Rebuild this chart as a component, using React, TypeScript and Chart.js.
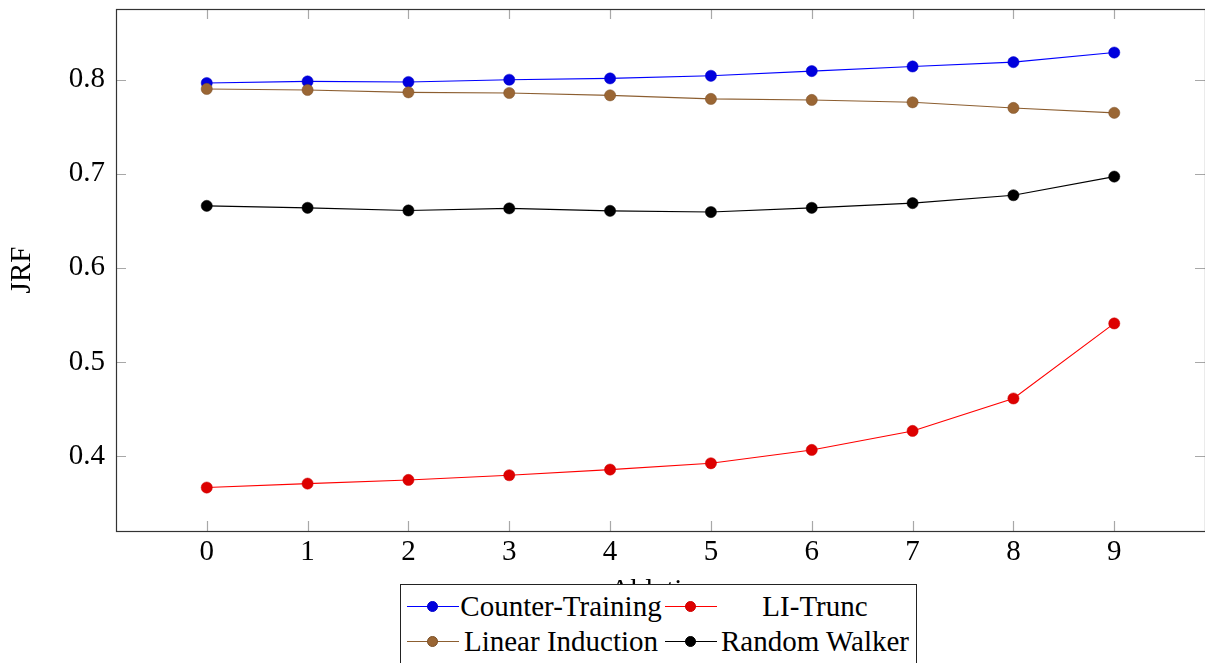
import React, { useEffect, useRef } from "react";
import { Chart, registerables } from "chart.js";

Chart.register(...registerables);

// ---- data ----
const xValues = [0, 1, 2, 3, 4, 5, 6, 7, 8, 9];
const counterTraining = [0.7965, 0.7982, 0.7976, 0.8, 0.8014, 0.8042, 0.8092, 0.8141, 0.8187, 0.8289];
const liTrunc = [0.3664, 0.3706, 0.3745, 0.3795, 0.3855, 0.3922, 0.4064, 0.4266, 0.4611, 0.5409];
const linearInduction = [0.7902, 0.7891, 0.7866, 0.7859, 0.7834, 0.7796, 0.7785, 0.776, 0.77, 0.7648];
const randomWalker = [0.6659, 0.6638, 0.661, 0.6632, 0.6606, 0.6593, 0.6638, 0.6688, 0.6772, 0.697];
const yTicks = [0.4, 0.5, 0.6, 0.7, 0.8];
const xTicks = [0, 1, 2, 3, 4, 5, 6, 7, 8, 9];
const seriesLabels = ["Counter-Training", "LI-Trunc", "Linear Induction", "Random Walker"];
const xTitle = "Ablation";
const yTitle = "JRF";

const FONT = '"Liberation Serif", "Times New Roman", serif';

const styles = [
  { line: "#0000ff", fill: "#0000dd", border: "#0000cc", order: 4 },
  { line: "#ff0000", fill: "#dd0000", border: "#cc0000", order: 3 },
  { line: "#8c5e30", fill: "#9a6634", border: "#7a4f26", order: 2 },
  { line: "#000000", fill: "#000000", border: "#000000", order: 1 },
];

const seriesValues = [counterTraining, liTrunc, linearInduction, randomWalker];

const frameTicks = {
  id: "frameTicks",
  afterDatasetsDraw(chart: any) {
    const { ctx, chartArea } = chart;
    const xs = chart.scales.x;
    const ys = chart.scales.y;
    const { left, right, top, bottom } = chartArea;
    ctx.save();
    ctx.strokeStyle = "#a8a8a8";
    ctx.lineWidth = 1.2;
    const len = 10;
    ctx.beginPath();
    for (const v of xTicks) {
      const px = Math.round(xs.getPixelForValue(v)) + 0.5;
      ctx.moveTo(px, top);
      ctx.lineTo(px, top + len);
      ctx.moveTo(px, bottom);
      ctx.lineTo(px, bottom - len);
    }
    for (const v of yTicks) {
      const py = Math.round(ys.getPixelForValue(v)) + 0.5;
      ctx.moveTo(left, py);
      ctx.lineTo(left + len, py);
      ctx.moveTo(right, py);
      ctx.lineTo(right - len, py);
    }
    ctx.stroke();
    ctx.strokeStyle = "#333333";
    ctx.lineWidth = 1.2;
    ctx.strokeRect(left + 0.5, top + 0.5, right - left, bottom - top);
    ctx.restore();
  },
};

function zeroPad(scale: any) {
  scale.paddingTop = 0;
  scale.paddingBottom = 0;
  scale.paddingLeft = 0;
  scale.paddingRight = 0;
}

function LegendSample({ idx }: { idx: number }) {
  const s = styles[idx];
  return (
    <div style={{ position: "relative", width: 52, height: 35 }}>
      <div
        style={{
          position: "absolute",
          left: 0,
          right: 0,
          top: 17,
          height: 1,
          background: s.line,
        }}
      />
      <div
        style={{
          position: "absolute",
          left: 20,
          top: 12,
          width: 11,
          height: 11,
          borderRadius: "50%",
          background: s.fill,
          boxSizing: "border-box",
          border: `0.5px solid ${s.border}`,
        }}
      />
    </div>
  );
}

export default function App() {
  const canvasRef = useRef<HTMLCanvasElement | null>(null);

  useEffect(() => {
    document.body.style.margin = "0";
    const canvas = canvasRef.current;
    if (!canvas) return;
    const chart = new Chart(canvas, {
      type: "line",
      data: {
        datasets: seriesLabels.map((label, i) => ({
          label,
          data: xValues.map((x, j) => ({ x, y: seriesValues[i][j] })),
          borderColor: styles[i].line,
          backgroundColor: styles[i].fill,
          pointBackgroundColor: styles[i].fill,
          pointBorderColor: styles[i].border,
          pointBorderWidth: 0.5,
          pointRadius: 5.6,
          borderWidth: 1.1,
          tension: 0,
          fill: false,
          order: styles[i].order,
        })),
      },
      options: {
        animation: false,
        responsive: false,
        devicePixelRatio: 1,
        layout: { autoPadding: false, padding: { top: 9, left: 0, right: 0, bottom: 0 } },
        plugins: {
          legend: { display: false },
          tooltip: { enabled: false },
        },
        scales: {
          x: {
            type: "linear",
            min: -0.9,
            max: 9.9,
            afterBuildTicks: (scale: any) => {
              scale.ticks = xTicks.map((v) => ({ value: v }));
            },
            afterFit: (scale: any) => {
              scale.height = 132;
              zeroPad(scale);
            },
            grid: { display: false, drawTicks: false },
            border: { display: false },
            ticks: {
              padding: 4,
              color: "#000",
              font: { family: FONT, size: 29 },
              maxRotation: 0,
              autoSkip: false,
              callback: (v: any) => String(v),
            },
            title: {
              display: true,
              text: xTitle,
              color: "#000",
              font: { family: FONT, size: 29 },
              padding: { top: 0, bottom: 54 },
            },
          },
          y: {
            type: "linear",
            min: 0.3202,
            max: 0.8752,
            afterBuildTicks: (scale: any) => {
              scale.ticks = yTicks.map((v) => ({ value: v }));
            },
            afterFit: (scale: any) => {
              scale.width = 116;
              zeroPad(scale);
            },
            grid: { display: false, drawTicks: false },
            border: { display: false },
            ticks: {
              padding: 11,
              color: "#000",
              font: { family: FONT, size: 29 },
              callback: (v: any) => Number(v).toFixed(1),
            },
            title: {
              display: true,
              text: yTitle,
              color: "#000",
              font: { family: FONT, size: 29 },
              padding: { top: 5, bottom: 0 },
            },
          },
        },
      },
      plugins: [frameTicks],
    });
    return () => chart.destroy();
  }, []);

  return (
    <div
      style={{
        position: "fixed",
        left: 0,
        top: 0,
        width: 1205,
        height: 663,
        overflow: "hidden",
        background: "#fff",
      }}
    >
      <canvas ref={canvasRef} width={1205} height={663} style={{ display: "block" }} />
      <div
        style={{
          position: "absolute",
          left: 400,
          top: 584,
          width: 517,
          height: 100,
          border: "1.2px solid #222",
          background: "#fff",
          fontFamily: FONT,
          fontSize: 29,
          color: "#000",
          display: "grid",
          gridTemplateColumns: "6px 52px 204px 2px 52px 196px",
          gridAutoRows: "35px",
          paddingTop: 4,
          boxSizing: "border-box",
          lineHeight: "35px",
        }}
      >
        {[0, 2].map((row) => (
          <React.Fragment key={row}>
            <div />
            <LegendSample idx={row} />
            <div style={{ textAlign: "center", whiteSpace: "nowrap" }}>{seriesLabels[row]}</div>
            <div />
            <LegendSample idx={row + 1} />
            <div style={{ textAlign: "center", whiteSpace: "nowrap" }}>{seriesLabels[row + 1]}</div>
          </React.Fragment>
        ))}
      </div>
    </div>
  );
}
